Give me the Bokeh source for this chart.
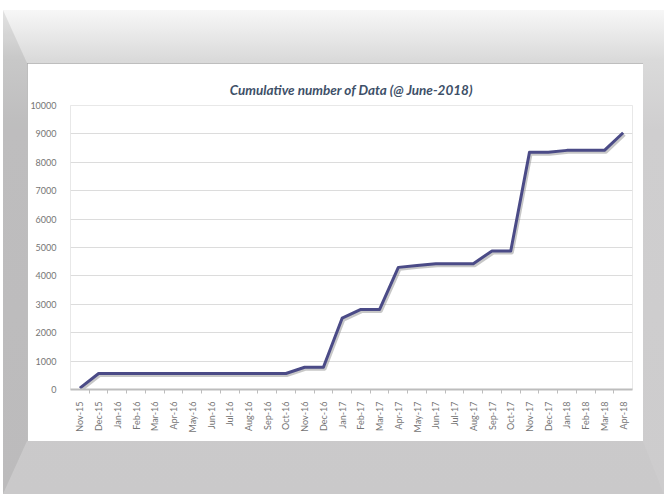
import math
from bokeh.plotting import figure
from bokeh.layouts import column
from bokeh.models import Range1d, FixedTicker, FactorRange, ColumnDataSource, CategoricalAxis
from bokeh.transform import dodge
from bokeh.embed import file_html
from bokeh.resources import INLINE

months = ["Nov-15", "Dec-15", "Jan-16", "Feb-16", "Mar-16", "Apr-16", "May-16", "Jun-16",
          "Jul-16", "Aug-16", "Sep-16", "Oct-16", "Nov-16", "Dec-16", "Jan-17", "Feb-17",
          "Mar-17", "Apr-17", "May-17", "Jun-17", "Jul-17", "Aug-17", "Sep-17", "Oct-17",
          "Nov-17", "Dec-17", "Jan-18", "Feb-18", "Mar-18", "Apr-18"]
cumulative = [50, 565, 565, 565, 565, 565, 565, 565,
              565, 565, 565, 565, 785, 785, 2510, 2820,
              2820, 4300, 4370, 4430, 4430, 4430, 4880, 4880,
              8350, 8350, 8420, 8420, 8420, 9040]
y_ticks = [0, 1000, 2000, 3000, 4000, 5000, 6000, 7000, 8000, 9000, 10000]
title_text = "Cumulative number of Data (@ June-2018)"

src = ColumnDataSource(dict(m=months, v=cumulative))

p = figure(x_range=months, y_range=Range1d(0, 10000), width=616, height=378,
           output_backend="svg", toolbar_location=None,
           min_border_left=40, min_border_right=11, min_border_top=42, min_border_bottom=52,
           x_axis_location=None)

p.border_fill_color = "white"
p.background_fill_color = "white"
p.outline_line_color = "#e8e8e8"

p.title.text = title_text
p.title.align = "center"
p.title.text_font = "Lato"
p.title.text_font_style = "bold italic"
p.title.text_font_size = "13.5px"
p.title.text_color = "#3e5068"
p.title.standoff = 15

# y axis
p.yaxis.ticker = FixedTicker(ticks=y_ticks)
p.yaxis.axis_line_color = None
p.yaxis.major_tick_line_color = None
p.yaxis.minor_tick_line_color = None
p.yaxis.major_label_text_font = "Lato"
p.yaxis.major_label_text_font_size = "9px"
p.yaxis.major_label_text_color = "#757575"
p.yaxis.major_label_standoff = 8

p.ygrid.ticker = FixedTicker(ticks=y_ticks)
p.ygrid.grid_line_color = "#dcdcdc"
p.ygrid.grid_line_width = 1
p.xgrid.grid_line_color = None

# tick-mark axis at category boundaries (one factor per boundary, centred on the boundaries)
boundaries = ["b%d" % i for i in range(len(months) + 1)]
p.extra_x_ranges = {"edges": FactorRange(factors=boundaries, range_padding=-0.5,
                                         range_padding_units="absolute")}
tick_axis = CategoricalAxis(x_range_name="edges")
tick_axis.axis_line_color = "#bdbdbd"
tick_axis.axis_line_width = 2
tick_axis.major_tick_line_color = "#bdbdbd"
tick_axis.major_tick_in = 0
tick_axis.major_tick_out = 4
tick_axis.major_label_text_font_size = "1px"
tick_axis.major_label_text_color = None
tick_axis.major_label_standoff = 0
p.add_layout(tick_axis, "below")

cat_axis = CategoricalAxis()
cat_axis.axis_line_color = None
cat_axis.major_tick_line_color = None
cat_axis.major_label_orientation = math.pi / 2
cat_axis.major_label_text_font = "Lato"
cat_axis.major_label_text_font_size = "9px"
cat_axis.major_label_text_color = "#757575"
cat_axis.major_label_standoff = 2
p.add_layout(cat_axis, "below")

# shadow + line
p.line(x=dodge("m", 0.08, range=p.x_range), y=dodge("v", -70), source=src,
       line_color="#8f8f8f", line_alpha=0.5, line_width=3)
p.line(x="m", y="v", source=src, line_color="#4b4b87", line_width=3, line_join="round")

p.styles = {"outline": "2px solid #a9a9a9", "outline-offset": "-2px"}
lay = column(p, width=661, height=484, sizing_mode="fixed", margin=(10, 0, 0, 3), styles={
    "border-style": "solid",
    "border-width": "53px 21px 53px 24px",
    "border-color": "rgba(255,255,255,0) rgba(0,0,0,0) rgba(0,0,0,0.01) rgba(0,0,0,0.08)",
    "background-image": "linear-gradient(to bottom, #f7f7f7 0px, #dadada 50px, #cfcecf 120px, #cdcccd 100%)",
    "background-origin": "border-box",
    "background-clip": "border-box",
    "background-repeat": "no-repeat",
    "background-size": "100% 100%",
    "box-sizing": "border-box",
})

open("out.html", "w").write(file_html(lay, INLINE))
